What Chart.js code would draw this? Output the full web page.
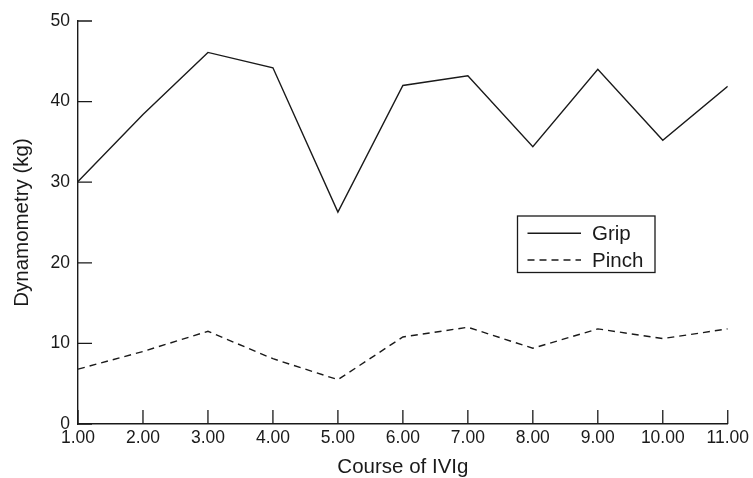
<!DOCTYPE html>
<html>
<head>
<meta charset="utf-8">
<script src="https://cdn.jsdelivr.net/npm/chart.js@4"></script>
<style>
html,body{margin:0;padding:0;background:#fff;}
canvas{display:block;}
</style>
</head>
<body>
<canvas id="c" width="753" height="478"></canvas>
<script>
const courses = [1,2,3,4,5,6,7,8,9,10,11];
const gripValues = [30.1,38.4,46.1,44.2,26.3,42.0,43.2,34.4,44.0,35.2,41.9];
const pinchValues = [6.8,9.0,11.5,8.1,5.5,10.8,12.0,9.4,11.8,10.6,11.8];
const yTicks = [0,10,20,30,40,50];
const xTickLabels = ["1.00","2.00","3.00","4.00","5.00","6.00","7.00","8.00","9.00","10.00","11.00"];
const seriesNames = ["Grip","Pinch"];
const xTitle = "Course of IVIg";
const yTitle = "Dynamometry (kg)";

const INK = '#1a1a1a';
const FONT = '"Liberation Sans", Arial, Helvetica, sans-serif';

const innerTicks = {
  id: 'innerTicks',
  afterDatasetsDraw(chart) {
    const ctx = chart.ctx;
    const xs = chart.scales.x, ys = chart.scales.y;
    const area = chart.chartArea;
    ctx.save();
    ctx.strokeStyle = INK;
    ctx.lineWidth = 1.3;
    ctx.beginPath();
    xs.ticks.forEach(t => {
      const px = xs.getPixelForValue(t.value);
      ctx.moveTo(px, area.bottom);
      ctx.lineTo(px, area.bottom - 14);
    });
    ys.ticks.forEach(t => {
      const py = ys.getPixelForValue(t.value);
      ctx.moveTo(area.left, py);
      ctx.lineTo(area.left + 14, py);
    });
    ctx.stroke();
    ctx.restore();
  }
};

const boxLegend = {
  id: 'boxLegend',
  afterDraw(chart) {
    const ctx = chart.ctx;
    const L = 517.5, T = 216, R = 655, B = 272.5;
    ctx.save();
    ctx.strokeStyle = INK;
    ctx.lineWidth = 1.3;
    ctx.strokeRect(L, T, R - L, B - T);
    const rows = [233.3, 260];
    const bases = [240, 266.5];
    chart.data.datasets.forEach((ds, i) => {
      ctx.beginPath();
      ctx.setLineDash(ds.borderDash || []);
      ctx.lineWidth = 1.4;
      ctx.moveTo(527.5, rows[i]);
      ctx.lineTo(581, rows[i]);
      ctx.stroke();
      ctx.setLineDash([]);
      ctx.fillStyle = INK;
      ctx.font = '20.5px ' + FONT;
      ctx.textBaseline = 'alphabetic';
      ctx.textAlign = 'left';
      ctx.fillText(ds.label, 592, bases[i]);
    });
    ctx.restore();
  }
};

new Chart(document.getElementById('c'), {
  type: 'line',
  data: {
    labels: courses,
    datasets: [
      {label: seriesNames[0], data: courses.map((x,i)=>({x, y: gripValues[i]})), borderColor: INK, borderWidth: 1.4, pointRadius: 0, tension: 0, fill: false},
      {label: seriesNames[1], data: courses.map((x,i)=>({x, y: pinchValues[i]})), borderColor: INK, borderWidth: 1.4, borderDash: [7,5], pointRadius: 0, tension: 0, fill: false}
    ]
  },
  options: {
    responsive: false,
    animation: false,
    devicePixelRatio: 1,
    layout: {padding: {top: 21, right: 24, left: 0, bottom: 0}},
    plugins: {legend: {display: false}, tooltip: {enabled: false}},
    scales: {
      x: {
        type: 'linear', min: 1, max: 11,
        afterBuildTicks(s) { s.ticks = courses.map(v => ({value: v})); },
        afterFit(s) { s.height = 54; },
        grid: {display: false, drawTicks: false},
        border: {display: true, color: INK, width: 1.4},
        ticks: {
          padding: 4, color: INK, maxRotation: 0, autoSkip: false,
          font: {family: FONT, size: 17.5},
          callback: (v, i) => xTickLabels[i]
        },
        title: {display: true, text: xTitle, color: INK, font: {family: FONT, size: 20.5, lineHeight: 1.0}, padding: {top: 0, bottom: 0}}
      },
      y: {
        type: 'linear', min: 0, max: 50,
        afterBuildTicks(s) { s.ticks = yTicks.map(v => ({value: v})); },
        afterFit(s) { s.width = 78; },
        grid: {display: false, drawTicks: false},
        border: {display: true, color: INK, width: 1.4},
        ticks: {
          padding: 8, color: INK,
          font: {family: FONT, size: 17.5},
          callback: v => String(v)
        },
        title: {display: true, text: yTitle, color: INK, font: {family: FONT, size: 20.5, lineHeight: 1.2}, padding: {top: 10, bottom: 0}}
      }
    }
  },
  plugins: [innerTicks, boxLegend]
});
</script>
</body>
</html>
